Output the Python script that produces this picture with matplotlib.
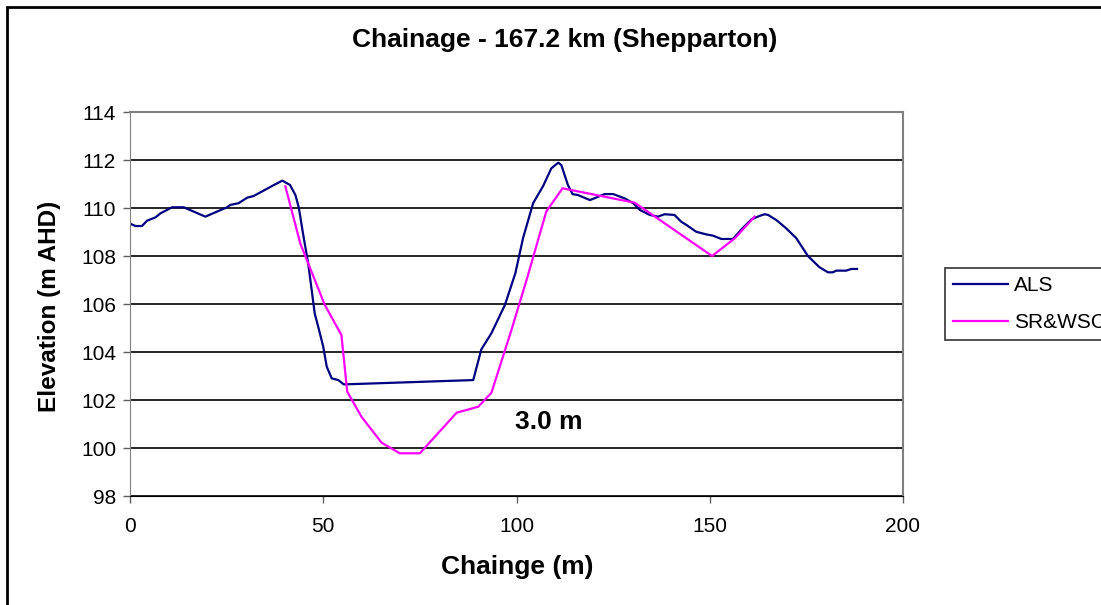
import numpy as np
import matplotlib.pyplot as plt
from matplotlib.patches import Rectangle

plt.rcParams['font.family'] = ['Liberation Sans', 'DejaVu Sans']

# ALS survey profile
als_x = [0, 1.4, 3.1, 4.4, 6.6, 7.9, 10.9, 13.9, 19.5, 25.1, 26.0, 28.1, 30.3, 32.0,
         36.8, 39.4, 41.4, 42.8, 43.7, 44.8, 46.1, 47.8, 48.7, 50.0, 50.9, 52.2, 53.9,
         55.3, 88.8, 90.9, 93.5, 97.0, 99.7, 101.7, 104.3, 106.9, 109.0, 110.8, 111.6,
         113.3, 114.5, 115.9, 119.0, 120.7, 122.8, 125.0, 128.0, 130.2, 131.9, 134.5,
         136.6, 138.3, 140.9, 142.6, 144.0, 146.5, 149.1, 150.8, 153.0, 156.0, 158.2,
         160.8, 162.9, 164.2, 165.1, 167.2, 169.8, 172.4, 175.4, 178.4, 180.6, 181.9,
         182.7, 185.3, 186.6, 188.1]
als_y = [109.35, 109.25, 109.25, 109.47, 109.61, 109.78, 110.03, 110.03, 109.64, 110.03,
         110.13, 110.2, 110.43, 110.5, 110.92, 111.14, 110.96, 110.54, 110.0, 108.9,
         107.7, 105.6, 105.05, 104.22, 103.39, 102.9, 102.83, 102.65, 102.83, 104.11,
         104.78, 105.96, 107.28, 108.75, 110.2, 110.92, 111.65, 111.89, 111.79, 110.96,
         110.58, 110.54, 110.33, 110.44, 110.58, 110.58, 110.4, 110.2, 109.92, 109.71,
         109.64, 109.74, 109.71, 109.43, 109.29, 109.01, 108.9, 108.85, 108.71, 108.71,
         109.11, 109.53, 109.67, 109.74, 109.71, 109.5, 109.15, 108.74, 108.0, 107.53,
         107.32, 107.32, 107.39, 107.39, 107.46, 107.46]

# SR&WSC surveyed section
sr_x = [40.2, 44.1, 50.4, 54.7, 56.2, 59.9, 65.1, 69.8, 75.0, 84.5, 90.1, 93.5,
        98.7, 102.6, 107.7, 111.9, 130.6, 150.6, 156.5, 161.6]
sr_y = [110.9, 108.5, 105.96, 104.71, 102.35, 101.3, 100.22, 99.78, 99.78, 101.47,
        101.72, 102.3, 104.92, 107.0, 109.85, 110.82, 110.22, 108.0, 108.74, 109.64]

xticks = [0, 50, 100, 150, 200]
yticks = [98, 100, 102, 104, 106, 108, 110, 112, 114]

fig = plt.figure(figsize=(11.01, 6.05), dpi=100)
ax = fig.add_axes([130/1101, 1-496/605, (903-130)/1101, (496-112)/605])

ax.plot(als_x, als_y, color='#000080', lw=1.6, label='ALS')
ax.plot(sr_x, sr_y, color='#FF00FF', lw=1.6, label='SR&WSC')

ax.set_xlim(0, 200)
ax.set_ylim(98, 114)
ax.set_xticks(xticks)
ax.set_yticks(yticks)
ax.grid(axis='y', color='black', lw=1.2)
ax.set_axisbelow(True)
ax.tick_params(labelsize=15, length=5, color='#606060', width=1)
ax.tick_params(axis='x', pad=10)
ax.tick_params(axis='y', pad=5)
for s in ['top', 'right']:
    ax.spines[s].set_color('#808080')
    ax.spines[s].set_linewidth(1.5)
ax.spines['left'].set_color('#808080')
ax.spines['bottom'].set_color('black')

ax.text(108.4, 101.1, '3.0 m', fontsize=19, fontweight='bold', ha='center', va='center')

fig.text(565/1101, 1-40/605, 'Chainage - 167.2 km (Shepparton)', fontsize=19,
         fontweight='bold', ha='center', va='center')
fig.text(517/1101, 1-567/605, 'Chainge (m)', fontsize=19, fontweight='bold',
         ha='center', va='center')
fig.text(50/1101, 1-306/605, 'Elevation (m AHD)', fontsize=17.5, fontweight='bold',
         ha='center', va='center', rotation=90)

leg = fig.legend(loc='upper left', bbox_to_anchor=(945/1101, 1-268/605), fontsize=15,
                 frameon=True, fancybox=False, edgecolor='black', handlelength=2.6,
                 handletextpad=0.3, borderpad=0.4, labelspacing=0.85, borderaxespad=0)
leg.get_frame().set_linewidth(1.2)

fig.patches.append(Rectangle((7/1101, -0.1), 1.2, 1-7/605+0.1, transform=fig.transFigure,
                             fill=False, edgecolor='black', lw=2))

fig.savefig('out.png', dpi=100)
